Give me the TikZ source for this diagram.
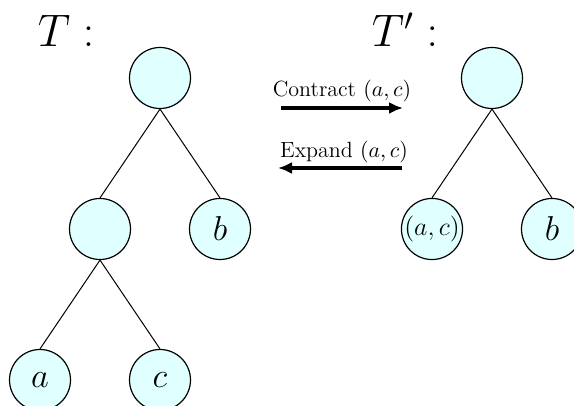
\documentclass[tikz,border=0pt]{standalone}
\usepackage{amsmath}
\usetikzlibrary{arrows.meta}
\definecolor{nodecyan}{RGB}{224,255,255}

\begin{document}
\begin{tikzpicture}[
    x=0.5pt,y=-0.5pt,
    tnode/.style={circle,draw=black,line width=0.6pt,fill=nodecyan,minimum size=30.5pt,inner sep=0pt,font=\LARGE},
    branch/.style={black,line width=0.5pt},
    op arrow/.style={-{Latex[length=7pt,width=6pt]},line width=2pt},
    op label/.style={font=\fontsize{11}{13}\selectfont,anchor=base},
    tree name/.style={font=\huge,anchor=base}
]
    \useasboundingbox (0,0) rectangle (574,406);

    % Tree T before contraction.
    \node[tree name] (tname) at (66,47) {\scalebox{1.1}{$T:$}};
    \node[tnode] (troot) at (160,78)  {};
    \node[tnode] (tmid)  at (100,229) {};
    \node[tnode] (tb)    at (220,229) {$b$};
    \node[tnode] (ta)    at (40,380)  {$a$};
    \node[tnode] (tc)    at (160,380) {$c$};

    \draw[branch] (troot.south) -- (tmid.north);
    \draw[branch] (troot.south) -- (tb.north);
    \draw[branch] (tmid.south) -- (ta.north);
    \draw[branch] (tmid.south) -- (tc.north);

    % Tree T' after contracting the pair (a,c).
    \node[tree name] (pname) at (405,47) {\scalebox{1.1}{$T':$}};
    \node[tnode,font=\Large] (pac) at (432,229) {\scalebox{0.9}{$(a,c)$}};
    \node[tnode] (proot) at (492,78)  {};
    \node[tnode] (pb)    at (552,229) {$b$};

    \draw[branch] (proot.south) -- (pac.north);
    \draw[branch] (proot.south) -- (pb.north);

    % Operations between the two trees.
    \coordinate (cfrom) at (281,108);
    \coordinate (cto)   at (403,108);
    \coordinate (efrom) at (402,168);
    \coordinate (eto)   at (278,168);

    \draw[op arrow] (cfrom) -- (cto);
    \draw[op arrow] (efrom) -- (eto);
    \node[op label] (clab) at (342,97)  {Contract $(a,c)$};
    \node[op label] (elab) at (344,158) {Expand $(a,c)$};
\end{tikzpicture}
\end{document}
